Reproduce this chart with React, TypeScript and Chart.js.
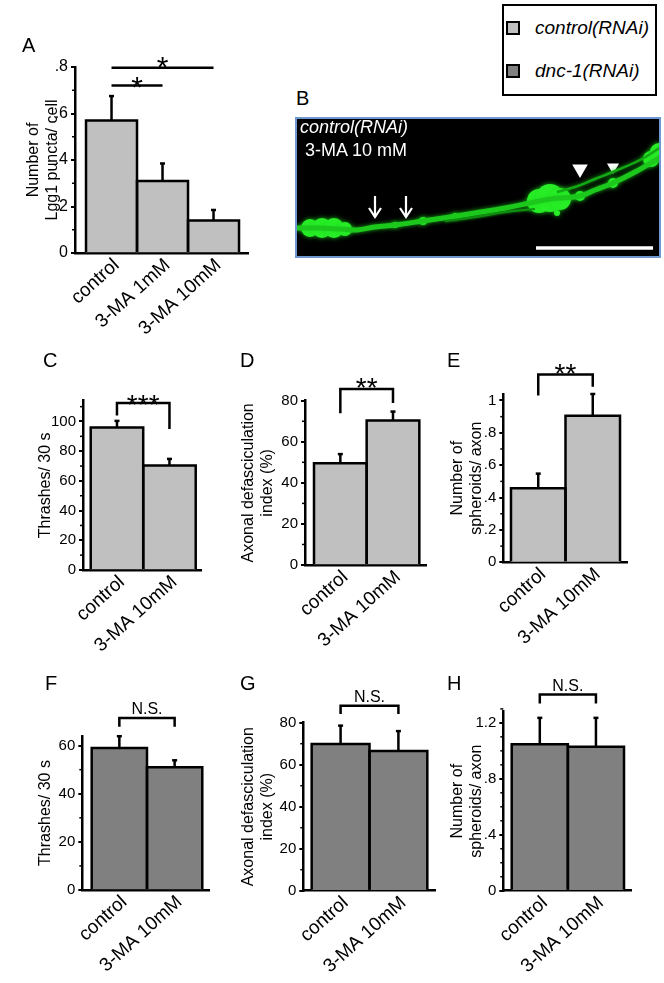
import React, { useEffect, useRef } from "react";
import { Chart, registerables } from "chart.js";
Chart.register(...registerables);

const FONT = '"Liberation Sans", Arial, Helvetica, sans-serif';
const LIGHT = "#c0c0c0";
const DARK = "#808080";

// ---------- data ----------
const categoriesA = ["control", "3-MA 1mM", "3-MA 10mM"];
const lgg1Puncta = [0.57, 0.31, 0.14];
const lgg1PunctaErr = [0.105, 0.075, 0.045];

const categories2 = ["control", "3-MA 10mM"];
const thrashesControlRNAi = [96, 70.3];
const thrashesControlRNAiErr = [4.4, 4.5];
const defascControlRNAi = [49.5, 70.3];
const defascControlRNAiErr = [4.5, 4.4];
const spheroidsControlRNAi = [0.458, 0.905];
const spheroidsControlRNAiErr = [0.09, 0.135];
const thrashesDnc1 = [59, 51];
const thrashesDnc1Err = [4.9, 2.9];
const defascDnc1 = [69.8, 66.5];
const defascDnc1Err = [8.8, 9.5];
const spheroidsDnc1 = [1.048, 1.029];
const spheroidsDnc1Err = [0.188, 0.207];

// ---------- panel B illustration (image-space units) ----------
const axonPath = [
  [0, 111], [20, 111], [45, 112], [62, 113], [80, 110], [100, 108], [128, 104],
  [155, 100], [180, 96], [210, 91], [235, 86], [255, 82], [285, 79], [300, 73],
  [318, 66], [340, 55], [366, 40],
];
const upperFiber = [[262, 75], [280, 70], [300, 62], [320, 54], [345, 43], [366, 30]];
const lowerFiber = [[150, 104], [180, 100], [210, 95], [240, 92]];
const varicosities = [
  [15, 111, 9], [27, 111, 10], [39, 111, 10], [50, 112, 7], [100, 108, 3], [128, 104, 4],
  [160, 99, 3], [244, 84, 12], [255, 81, 14], [265, 82, 11], [262, 96, 3],
  [285, 79, 5], [318, 66, 5], [356, 42, 8], [364, 35, 9],
];
const arrowXs = [80, 111];
const arrowTop = 79;
const arrowBottom = 100;
const arrowheads = [[285, 52, 9], [318, 50, 7]];
const scaleBar = [[241, 131], [358, 131]];

// ---------- helpers ----------
function fmt(v: number) {
  if (Math.abs(v) < 1e-9) return "0";
  const s = String(Math.round(v * 100) / 100);
  return s.startsWith("0.") ? s.slice(1) : s;
}

type Sig = { from: number; to: number; top: number; legL?: number; legR?: number; text: string; size: number; gap: number; star: boolean };
type PanelCfg = {
  left: number; top: number; width: number; height: number;
  plot: { l: number; t: number; r: number; b: number };
  cats: string[]; values: number[]; errors: number[]; fill: string;
  yMax: number; yStep: number; minor: number; xMin: number; xMax: number;
  title: string[]; titlePad: number; tickSize: number; sig: Sig[];
};

function BarPanel({ cfg }: { cfg: PanelCfg }) {
  const ref = useRef<HTMLCanvasElement>(null);
  useEffect(() => {
    const c = cfg;
    const overlay = {
      id: "overlay",
      afterDatasetsDraw(chart: any) {
        const ctx = chart.ctx;
        const xs = chart.scales.x;
        const ys = chart.scales.y;
        ctx.save();
        ctx.strokeStyle = "#000";
        ctx.fillStyle = "#000";
        ctx.lineWidth = 2.5;
        ctx.lineJoin = "miter";
        // bar outlines (from the bar elements' own geometry)
        chart.getDatasetMeta(0).data.forEach((bar: any) => {
          const l = bar.x - bar.width / 2;
          const r = bar.x + bar.width / 2;
          ctx.beginPath();
          ctx.moveTo(l, bar.base);
          ctx.lineTo(l, bar.y);
          ctx.lineTo(r, bar.y);
          ctx.lineTo(r, bar.base);
          ctx.stroke();
        });
        // error bars
        c.values.forEach((v, i) => {
          const x = xs.getPixelForValue(i);
          const y0 = ys.getPixelForValue(v);
          const y1 = ys.getPixelForValue(v + c.errors[i]);
          ctx.beginPath();
          ctx.moveTo(x, y0);
          ctx.lineTo(x, y1);
          ctx.stroke();
          ctx.beginPath();
          ctx.moveTo(x - 2.5, y1);
          ctx.lineTo(x + 2.5, y1);
          ctx.stroke();
        });
        // significance marks
        c.sig.forEach((s) => {
          const x1 = xs.getPixelForValue(s.from);
          const x2 = xs.getPixelForValue(s.to);
          const yt = ys.getPixelForValue(s.top);
          ctx.beginPath();
          if (s.legL !== undefined) {
            ctx.moveTo(x1, ys.getPixelForValue(s.legL));
            ctx.lineTo(x1, yt);
          } else ctx.moveTo(x1, yt);
          ctx.lineTo(x2, yt);
          if (s.legR !== undefined) ctx.lineTo(x2, ys.getPixelForValue(s.legR));
          ctx.stroke();
          ctx.font = `${s.size}px ${FONT}`;
          ctx.textAlign = "center";
          ctx.textBaseline = "alphabetic";
          const k = s.star ? 0.58 : 0.36;
          ctx.fillText(s.text, (x1 + x2) / 2, yt - s.gap + k * s.size);
        });
        // minor ticks
        const ax = chart.chartArea.left;
        ctx.lineWidth = 1.5;
        const n = Math.round(c.yMax / c.minor);
        for (let i = 1; i <= n; i++) {
          const v = i * c.minor;
          const r = v / c.yStep;
          if (Math.abs(r - Math.round(r)) < 1e-6) continue;
          const y = ys.getPixelForValue(v);
          ctx.beginPath();
          ctx.moveTo(ax - 3, y);
          ctx.lineTo(ax, y);
          ctx.stroke();
        }
        ctx.restore();
      },
    };
    const chart = new Chart(ref.current as HTMLCanvasElement, {
      type: "bar",
      data: {
        datasets: [
          {
            data: c.values.map((v, i) => ({ x: i, y: v })),
            backgroundColor: c.fill,
            borderWidth: 0,
            categoryPercentage: 1,
            barPercentage: 1,
          } as any,
        ],
      },
      options: {
        responsive: false,
        animation: false,
        devicePixelRatio: 1,
        layout: { autoPadding: false, padding: { top: c.plot.t - c.top, right: c.left + c.width - c.plot.r, left: 0, bottom: 0 } },
        plugins: { legend: { display: false }, tooltip: { enabled: false } },
        scales: {
          x: {
            type: "linear",
            min: c.xMin,
            max: c.xMax,
            offset: false,
            z: 1,
            afterBuildTicks: (s: any) => {
              s.ticks = c.cats.map((_, i) => ({ value: i }));
            },
            afterFit: (s: any) => {
              s.height = c.top + c.height - c.plot.b;
            },
            grid: { display: false, drawTicks: false, offset: false },
            border: { display: true, color: "#000", width: 2.5 },
            ticks: {
              autoSkip: false,
              minRotation: 42,
              maxRotation: 42,
              padding: 1,
              labelOffset: 5,
              color: "#000",
              font: { size: 19, family: FONT },
              callback: (v: any) => c.cats[Math.round(v)] ?? "",
            },
          },
          y: {
            min: 0,
            max: c.yMax,
            z: 1,
            afterFit: (s: any) => {
              s.width = c.plot.l - c.left;
            },
            ticks: {
              stepSize: c.yStep,
              includeBounds: false,
              padding: 3,
              color: "#000",
              font: { size: c.tickSize, family: FONT },
              callback: (v: any) => fmt(Number(v)),
            },
            grid: { drawOnChartArea: false, drawTicks: true, tickLength: 4, color: "#000", lineWidth: 2 },
            border: { display: true, color: "#000", width: 2.5 },
            title: {
              display: true,
              text: c.title,
              color: "#000",
              font: { size: 16, family: FONT, lineHeight: 1.2 },
              padding: { top: c.titlePad, bottom: 0 },
            },
          },
        },
      } as any,
      plugins: [overlay],
    });
    return () => chart.destroy();
  }, [cfg]);
  return (
    <canvas
      ref={ref}
      width={cfg.width}
      height={cfg.height}
      style={{ position: "absolute", left: cfg.left, top: cfg.top, width: cfg.width, height: cfg.height }}
    />
  );
}

function MicroscopyPanel() {
  const ref = useRef<HTMLCanvasElement>(null);
  useEffect(() => {
    const glow = {
      id: "glow",
      beforeDraw(chart: any) {
        const ctx = chart.ctx;
        ctx.save();
        ctx.fillStyle = "#000";
        ctx.fillRect(0, 0, chart.width, chart.height);
        ctx.restore();
      },
      beforeDatasetDraw(chart: any, args: any) {
        const ds: any = chart.data.datasets[args.index];
        if (ds.glow) {
          chart.ctx.save();
          chart.ctx.shadowColor = "rgba(30,220,30,0.8)";
          chart.ctx.shadowBlur = ds.glow;
        }
      },
      afterDatasetDraw(chart: any, args: any) {
        const ds: any = chart.data.datasets[args.index];
        if (ds.glow) chart.ctx.restore();
      },
    };
    const pts = (a: number[][]) => a.map((p) => ({ x: p[0], y: p[1] }));
    const datasets: any[] = [
      { type: "line", data: pts(lowerFiber), borderColor: "#0f8f0f", borderWidth: 2, tension: 0.4, pointRadius: 0, glow: 3 },
      { type: "line", data: pts(upperFiber), borderColor: "#14a814", borderWidth: 2.5, tension: 0.4, pointRadius: 0, glow: 4 },
      { type: "line", data: pts(axonPath), borderColor: "#1cc81c", borderWidth: 5, tension: 0.4, pointRadius: 0, glow: 4 },
      { type: "bubble", data: varicosities.map((p) => ({ x: p[0], y: p[1], r: p[2] })), backgroundColor: "#28ee28", borderWidth: 0, glow: 5 },
    ];
    arrowXs.forEach((x) => {
      datasets.push({ type: "line", data: [{ x, y: arrowTop }, { x, y: arrowBottom }], borderColor: "#fff", borderWidth: 2.2, pointRadius: 0 });
      datasets.push({
        type: "line",
        data: [{ x: x - 6, y: arrowBottom - 9 }, { x, y: arrowBottom }, { x: x + 6, y: arrowBottom - 9 }],
        borderColor: "#fff",
        borderWidth: 2.2,
        pointRadius: 0,
      });
    });
    datasets.push({
      type: "scatter",
      data: arrowheads.map((p) => ({ x: p[0], y: p[1] })),
      pointStyle: "triangle",
      rotation: 180,
      pointRadius: arrowheads.map((p) => p[2]),
      backgroundColor: "#fff",
      borderColor: "#fff",
      borderWidth: 0,
    });
    datasets.push({ type: "line", data: pts(scaleBar), borderColor: "#fff", borderWidth: 3.5, pointRadius: 0 });

    const chart = new Chart(ref.current as HTMLCanvasElement, {
      type: "scatter",
      data: { datasets },
      options: {
        responsive: false,
        animation: false,
        devicePixelRatio: 1,
        layout: { padding: 0, autoPadding: false },
        plugins: { legend: { display: false }, tooltip: { enabled: false } },
        scales: {
          x: { type: "linear", min: 0, max: 366, display: false, offset: false },
          y: { type: "linear", min: 0, max: 141, reverse: true, display: false, offset: false },
        },
      } as any,
      plugins: [glow],
    });
    return () => chart.destroy();
  }, []);
  return (
    <canvas ref={ref} width={366} height={141} style={{ position: "absolute", left: 295, top: 117, width: 366, height: 141 }} />
  );
}

// ---------- panel configs ----------
const panels: PanelCfg[] = [
  {
    left: 0, top: 30, width: 262, height: 325, plot: { l: 75, t: 67, r: 248, b: 253 },
    cats: categoriesA, values: lgg1Puncta, errors: lgg1PunctaErr, fill: LIGHT,
    yMax: 0.8, yStep: 0.2, minor: 0.1, xMin: -0.716, xMax: 2.676,
    title: ["Number of", "Lgg1 puncta/ cell"], titlePad: 24, tickSize: 16,
    sig: [
      { from: 0, to: 2, top: 0.797, text: "*", size: 30, gap: 8.4, star: true },
      { from: 0, to: 1, top: 0.72, text: "*", size: 30, gap: 5.7, star: true },
    ],
  },
  {
    left: 0, top: 380, width: 220, height: 305, plot: { l: 83, t: 400.7, r: 201.7, b: 570 },
    cats: categories2, values: thrashesControlRNAi, errors: thrashesControlRNAiErr, fill: LIGHT,
    yMax: 114, yStep: 20, minor: 10, xMin: -0.647, xMax: 1.614,
    title: ["Thrashes/ 30 s"], titlePad: 36, tickSize: 15,
    sig: [{ from: 0, to: 1, top: 112.4, legL: 104, legR: 95, text: "***", size: 28, gap: 5, star: true }],
  },
  {
    left: 215, top: 365, width: 225, height: 320, plot: { l: 305, t: 400.7, r: 426.7, b: 565 },
    cats: categories2, values: defascControlRNAi, errors: defascControlRNAiErr, fill: LIGHT,
    yMax: 80, yStep: 20, minor: 10, xMin: -0.671, xMax: 1.64,
    title: ["Axonal defasciculation", "index (%)"], titlePad: 24, tickSize: 15,
    sig: [{ from: 0, to: 1, top: 85.7, legL: 73.9, legR: 78.9, text: "**", size: 28, gap: 8.3, star: true }],
  },
  {
    left: 440, top: 350, width: 224, height: 320, plot: { l: 503.3, t: 394, r: 627, b: 562.3 },
    cats: categories2, values: spheroidsControlRNAi, errors: spheroidsControlRNAiErr, fill: LIGHT,
    yMax: 1.04, yStep: 0.2, minor: 0.1, xMin: -0.641, xMax: 1.628,
    title: ["Number of", "spheroids/ axon"], titlePad: 8, tickSize: 15,
    sig: [{ from: 0, to: 1, top: 1.16, legL: 1.03, legR: 1.085, text: "**", size: 28, gap: 8.3, star: true }],
  },
  {
    left: 0, top: 690, width: 220, height: 293, plot: { l: 82.3, t: 736, r: 209.3, b: 890 },
    cats: categories2, values: thrashesDnc1, errors: thrashesDnc1Err, fill: DARK,
    yMax: 64, yStep: 20, minor: 10, xMin: -0.67, xMax: 1.627,
    title: ["Thrashes/ 30 s"], titlePad: 36, tickSize: 15,
    sig: [{ from: 0, to: 1, top: 71.5, legL: 67.8, legR: 67.8, text: "N.S.", size: 16, gap: 10, star: false }],
  },
  {
    left: 215, top: 680, width: 225, height: 303, plot: { l: 303.3, t: 722.7, r: 435, b: 890.7 },
    cats: categories2, values: defascDnc1, errors: defascDnc1Err, fill: DARK,
    yMax: 80, yStep: 20, minor: 10, xMin: -0.645, xMax: 1.633,
    title: ["Axonal defasciculation", "index (%)"], titlePad: 24, tickSize: 15,
    sig: [{ from: 0, to: 1, top: 88.1, legL: 84.1, legR: 84.1, text: "N.S.", size: 16, gap: 9, star: false }],
  },
  {
    left: 440, top: 672, width: 224, height: 311, plot: { l: 503.3, t: 711.7, r: 631.7, b: 890.7 },
    cats: categories2, values: spheroidsDnc1, errors: spheroidsDnc1Err, fill: DARK,
    yMax: 1.28, yStep: 0.4, minor: 0.1, xMin: -0.65, xMax: 1.637,
    title: ["Number of", "spheroids/ axon"], titlePad: 8, tickSize: 15,
    sig: [{ from: 0, to: 1, top: 1.403, legL: 1.339, legR: 1.339, text: "N.S.", size: 16, gap: 9.3, star: false }],
  },
];

const letters: [string, number, number][] = [
  ["A", 22, 35], ["B", 296, 88], ["C", 43, 350], ["D", 240, 350], ["E", 447, 350],
  ["F", 45, 673], ["G", 240, 673], ["H", 447, 673],
];

export default function App() {
  return (
    <div style={{ position: "absolute", left: 0, top: 0, width: 664, height: 983, background: "#fff", fontFamily: FONT, color: "#000", overflow: "hidden" }}>
      {panels.map((p, i) => (
        <BarPanel key={i} cfg={p} />
      ))}
      <MicroscopyPanel />
      <div style={{ position: "absolute", left: 295, top: 117, width: 366, height: 141, boxSizing: "border-box", border: "2px solid #6e98cf", pointerEvents: "none" }} />
      <div style={{ position: "absolute", left: 300, top: 117, color: "#fff", fontSize: 18, fontStyle: "italic", lineHeight: "20px", whiteSpace: "nowrap" }}>control(RNAi)</div>
      <div style={{ position: "absolute", left: 305, top: 140, color: "#fff", fontSize: 18, lineHeight: "20px", whiteSpace: "nowrap" }}>3-MA 10 mM</div>
      {letters.map(([t, x, y]) => (
        <div key={t} style={{ position: "absolute", left: x, top: y, fontSize: 20, lineHeight: "20px" }}>{t}</div>
      ))}
      <div style={{ position: "absolute", left: 502, top: 4, width: 155, height: 92, boxSizing: "border-box", border: "2px solid #000" }} />
      <div style={{ position: "absolute", left: 506, top: 21, width: 14, height: 14, boxSizing: "border-box", border: "2px solid #000", background: LIGHT }} />
      <div style={{ position: "absolute", left: 506, top: 64, width: 14, height: 14, boxSizing: "border-box", border: "2px solid #000", background: DARK }} />
      <div style={{ position: "absolute", left: 535, top: 17, fontSize: 19, fontStyle: "italic", lineHeight: "22px", whiteSpace: "nowrap" }}>control(RNAi)</div>
      <div style={{ position: "absolute", left: 535, top: 60, fontSize: 19, fontStyle: "italic", lineHeight: "22px", whiteSpace: "nowrap" }}>dnc-1(RNAi)</div>
    </div>
  );
}
